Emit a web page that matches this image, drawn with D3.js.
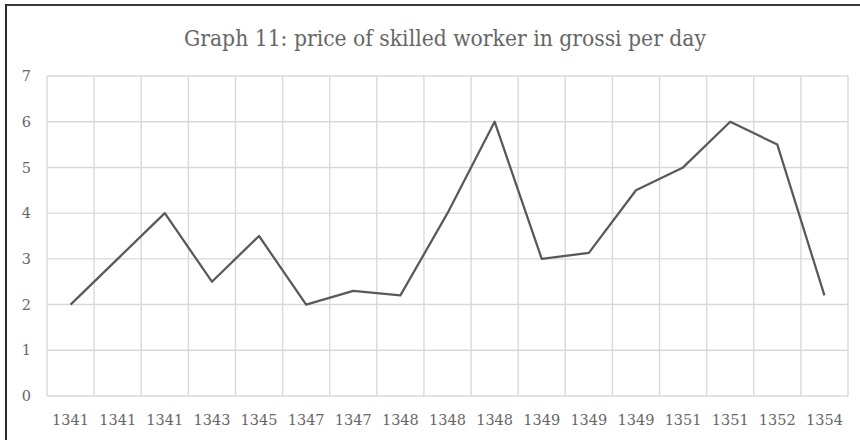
<!DOCTYPE html>
<html><head><meta charset="utf-8">
<script src="https://cdn.jsdelivr.net/npm/d3@7/dist/d3.min.js"></script>
<style>body{margin:0;background:#fff}svg{display:block}</style>
</head><body>
<svg id="chart" width="860" height="440"></svg>
<script>
const title = "Graph 11: price of skilled worker in grossi per day";
const categories = ["1341","1341","1341","1343","1345","1347","1347","1348","1348","1348","1349","1349","1349","1351","1351","1352","1354"];
const values = [2, 3, 4, 2.5, 3.5, 2, 2.3, 2.2, 4, 6, 3, 3.13, 4.5, 5, 6, 5.5, 2.2];
const yTicks = [0,1,2,3,4,5,6,7];

const svg = d3.select("#chart");
const W = 860, H = 440;
const m = {left: 47, right: 12, top: 76, bottom: 44};
const font = "'DejaVu Serif', serif";

svg.append("rect").attr("width", W).attr("height", H).attr("fill", "#fff");
// frame (top and left edges visible)
svg.append("line").attr("x1", 5).attr("x2", W).attr("y1", 5).attr("y2", 5).attr("stroke", "#3a3a3a").attr("stroke-width", 2);
svg.append("line").attr("x1", 6).attr("x2", 6).attr("y1", 4).attr("y2", H).attr("stroke", "#2a2a2a").attr("stroke-width", 2);

const idx = categories.map((d, i) => i);
const x = d3.scaleBand().domain(idx).range([m.left, W - m.right]).padding(0);
const y = d3.scaleLinear().domain([0, 7]).range([H - m.bottom, m.top]);

const grid = svg.append("g");
grid.selectAll("line.h").data(yTicks).join("line")
  .attr("x1", m.left).attr("x2", W - m.right)
  .attr("y1", d => y(d)).attr("y2", d => y(d))
  .attr("stroke", "#d9d9d9").attr("stroke-width", 1.4);
const bounds = idx.map(i => x(i)).concat([x(idx[idx.length - 1]) + x.bandwidth()]);
grid.selectAll("line.v").data(bounds).join("line")
  .attr("x1", d => d).attr("x2", d => d)
  .attr("y1", y(7)).attr("y2", y(0))
  .attr("stroke", "#d9d9d9").attr("stroke-width", 1.4);

// y labels
svg.append("g").selectAll("text").data(yTicks).join("text")
  .attr("x", 31).attr("y", d => y(d)).attr("dy", "0.35em")
  .attr("text-anchor", "end").attr("font-family", font).attr("font-size", 14.5)
  .attr("fill", "#666").text(d => d);

// x labels
svg.append("g").selectAll("text").data(idx).join("text")
  .attr("x", i => x(i) + x.bandwidth() / 2).attr("y", 425)
  .attr("text-anchor", "middle").attr("font-family", font).attr("font-size", 14.5)
  .attr("fill", "#666").text(i => categories[i]);

// line
const line = d3.line().x((d, i) => x(i) + x.bandwidth() / 2).y(d => y(d));
svg.append("path").datum(values).attr("d", line)
  .attr("fill", "none").attr("stroke", "#595959").attr("stroke-width", 2.25)
  .attr("stroke-linejoin", "round");

// title
svg.append("text").attr("x", 445).attr("y", 46).attr("text-anchor", "middle")
  .attr("font-family", font).attr("font-size", 21.5).attr("fill", "#666")
  .attr("textLength", 522).attr("lengthAdjust", "spacingAndGlyphs")
  .text(title);
</script>
</body></html>
